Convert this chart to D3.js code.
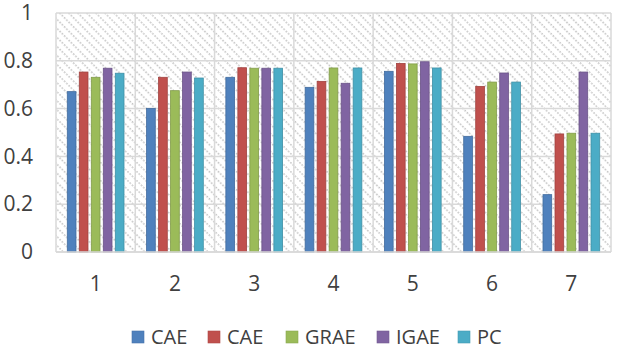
<!DOCTYPE html>
<html>
<head>
<meta charset="utf-8">
<script src="https://cdn.jsdelivr.net/npm/d3@7"></script>
<style>
  body { margin: 0; background: #fff; }
  svg { display: block; font-family: "Open Sans", sans-serif; }
</style>
</head>
<body>
<svg width="617" height="349"></svg>
<script>
// Data
const categories = ["1", "2", "3", "4", "5", "6", "7"];
const seriesNames = ["CAE", "CAE", "GRAE", "IGAE", "PC"];
const seriesColors = ["#4F81BD", "#C0504D", "#9BBB59", "#8064A2", "#4BACC6"];
const cae1 = [0.671, 0.601, 0.731, 0.689, 0.756, 0.484, 0.240];
const cae2 = [0.753, 0.731, 0.771, 0.714, 0.789, 0.693, 0.494];
const grae = [0.731, 0.675, 0.769, 0.770, 0.787, 0.711, 0.497];
const igae = [0.769, 0.753, 0.769, 0.706, 0.796, 0.749, 0.753];
const pc   = [0.748, 0.728, 0.769, 0.770, 0.770, 0.711, 0.497];
const yTicks = [0, 0.2, 0.4, 0.6, 0.8, 1];

const seriesValues = [cae1, cae2, grae, igae, pc];

// Plot area
const plotLeft = 56, plotRight = 611, plotTop = 13, plotBottom = 252;

const svg = d3.select("svg");

// Hatched background pattern
const defs = svg.append("defs");
const pat = defs.append("pattern")
  .attr("id", "hatch")
  .attr("patternUnits", "userSpaceOnUse")
  .attr("width", 6.4)
  .attr("height", 6.4)
  .attr("patternTransform", "rotate(-45)");
pat.append("rect")
  .attr("width", 6.4).attr("height", 6.4).attr("fill", "#fff");
pat.append("line")
  .attr("x1", 1).attr("y1", 0).attr("x2", 1).attr("y2", 6.4)
  .attr("stroke", "#b8b8b8")
  .attr("stroke-width", 1.3)
  .attr("stroke-dasharray", "1.6,1.6");

// Scales
const x0 = d3.scaleBand()
  .domain(categories)
  .range([plotLeft, plotRight])
  .padding(0);

const x1 = d3.scaleBand()
  .domain(d3.range(seriesNames.length))
  .range([0, x0.bandwidth()])
  .paddingInner(0.275)
  .paddingOuter(0.94);

const y = d3.scaleLinear()
  .domain([0, 1])
  .range([plotBottom, plotTop]);

// Background
svg.append("rect")
  .attr("x", plotLeft).attr("y", plotTop)
  .attr("width", plotRight - plotLeft).attr("height", plotBottom - plotTop)
  .attr("fill", "url(#hatch)");

// Horizontal gridlines
svg.append("g")
  .selectAll("line")
  .data(yTicks)
  .join("line")
  .attr("x1", plotLeft).attr("x2", plotRight)
  .attr("y1", d => y(d)).attr("y2", d => y(d))
  .attr("stroke", "#d9d9d9")
  .attr("stroke-width", 1.5);

// Vertical gridlines at category boundaries
svg.append("g")
  .selectAll("line")
  .data(categories.concat([null]))
  .join("line")
  .attr("x1", (d, i) => i < categories.length ? x0(d) : plotRight)
  .attr("x2", (d, i) => i < categories.length ? x0(d) : plotRight)
  .attr("y1", plotTop).attr("y2", plotBottom)
  .attr("stroke", "#d9d9d9")
  .attr("stroke-width", 1.5);

// Bars
const groups = svg.append("g")
  .selectAll("g")
  .data(categories)
  .join("g")
  .attr("transform", d => `translate(${x0(d)},0)`);

groups.selectAll("rect")
  .data((c, ci) => seriesValues.map((vals, si) => ({ si, v: vals[ci] })))
  .join("rect")
  .attr("x", d => x1(d.si))
  .attr("y", d => y(d.v))
  .attr("width", x1.bandwidth())
  .attr("height", d => y(0) - y(d.v))
  .attr("fill", d => seriesColors[d.si])
  .attr("stroke", d => d3.color(seriesColors[d.si]).darker(0.5))
  .attr("stroke-width", 0.8);

// Bottom axis line
svg.append("line")
  .attr("x1", plotLeft).attr("x2", plotRight)
  .attr("y1", plotBottom).attr("y2", plotBottom)
  .attr("stroke", "#d9d9d9")
  .attr("stroke-width", 1.5);

// Y axis labels
const yAxis = svg.append("g")
  .attr("transform", `translate(${plotLeft},0)`)
  .call(d3.axisLeft(y).tickValues(yTicks).tickSize(0).tickPadding(23)
    .tickFormat(d => String(+d.toFixed(1))));
yAxis.select(".domain").remove();
yAxis.selectAll("text")
  .attr("font-family", "Open Sans, sans-serif")
  .attr("font-size", 21)
  .attr("fill", "#404040");

// X axis labels
const xAxis = svg.append("g")
  .attr("transform", `translate(0,${plotBottom})`)
  .call(d3.axisBottom(x0).tickSize(0).tickPadding(24));
xAxis.select(".domain").remove();
xAxis.selectAll("text")
  .attr("font-family", "Open Sans, sans-serif")
  .attr("font-size", 21)
  .attr("fill", "#404040");

// Legend
const legendX = [132, 208, 286, 377, 458];
const legend = svg.append("g")
  .selectAll("g")
  .data(seriesNames)
  .join("g")
  .attr("transform", (d, i) => `translate(${legendX[i]},331)`);
legend.append("rect")
  .attr("width", 12).attr("height", 12)
  .attr("fill", (d, i) => seriesColors[i])
  .attr("stroke", (d, i) => d3.color(seriesColors[i]).darker(0.3))
  .attr("stroke-width", 0.6);
legend.append("text")
  .attr("x", 19)
  .attr("y", 12.5)
  .attr("font-size", 20)
  .attr("fill", "#404040")
  .text(d => d);
</script>
</body>
</html>
